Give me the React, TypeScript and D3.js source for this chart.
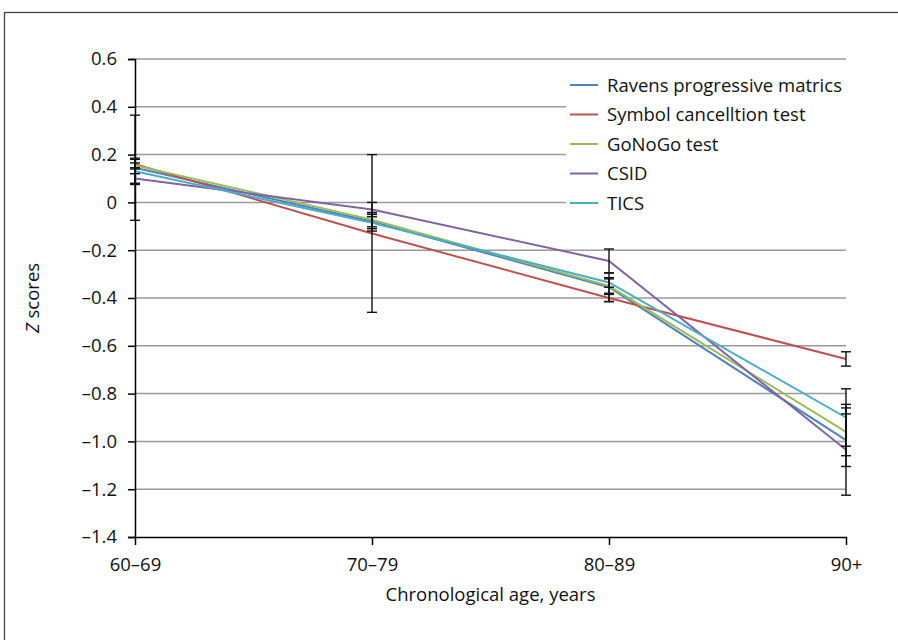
import React, { useEffect, useRef } from 'react';
import * as d3 from 'd3';

const ageGroups = ['60–69', '70–79', '80–89', '90+'];
const seriesNames = ['Ravens progressive matrics', 'Symbol cancelltion test', 'GoNoGo test', 'CSID', 'TICS'];
const seriesColors = ['#4F81BD', '#C0504D', '#9BBB59', '#8064A2', '#4BACC6'];

const ravens = [0.145, -0.08, -0.355, -0.995];
const symbol = [0.16, -0.13, -0.4, -0.655];
const gonogo = [0.155, -0.072, -0.35, -0.96];
const csid = [0.1, -0.03, -0.245, -1.035];
const tics = [0.13, -0.085, -0.335, -0.9];

const ravensErr = [0.22, 0.03, 0.06, 0.11];
const symbolErr = [0.02, 0.33, 0.015, 0.03];
const gonogoErr = [0.01, 0.03, 0.03, 0.1];
const csidErr = [0.02, 0.03, 0.05, 0.19];
const ticsErr = [0.055, 0.035, 0.02, 0.12];

const yTicks = [0.6, 0.4, 0.2, 0, -0.2, -0.4, -0.6, -0.8, -1.0, -1.2, -1.4];

const App = () => {
  const svgRef = useRef<SVGSVGElement>(null);

  useEffect(() => {
    const svg = d3.select(svgRef.current);
    svg.selectAll('*').remove();

    const width = 898;
    const height = 640;
    const margin = { top: 59, right: 52, bottom: 103, left: 135 };
    const font = '"Open Sans", "Noto Sans", sans-serif';
    const fs = 18.5;

    const values = [ravens, symbol, gonogo, csid, tics];
    const errors = [ravensErr, symbolErr, gonogoErr, csidErr, ticsErr];

    const x = d3.scalePoint().domain(ageGroups).range([margin.left, width - margin.right]);
    const y = d3.scaleLinear().domain([-1.4, 0.6]).range([height - margin.bottom, margin.top]);

    // outer frame
    svg.append('rect')
      .attr('x', 4.5).attr('y', 12.5)
      .attr('width', 910).attr('height', 660)
      .attr('fill', 'none').attr('stroke', '#444').attr('stroke-width', 1.3);

    // gridlines
    svg.append('g')
      .selectAll('line')
      .data(yTicks.slice(0, -1))
      .join('line')
      .attr('x1', margin.left).attr('x2', width - margin.right)
      .attr('y1', d => y(d)).attr('y2', d => y(d))
      .attr('stroke', '#9a9a9a').attr('stroke-width', 1.5);

    // y axis
    const yAxis = d3.axisLeft(y)
      .tickValues(yTicks)
      .tickSize(7)
      .tickPadding(11)
      .tickFormat(d => {
        const v = +d;
        if (v === 0) return '0';
        return (v < 0 ? '–' : '') + Math.abs(v).toFixed(1);
      });
    const gy = svg.append('g').attr('transform', `translate(${margin.left},0)`).call(yAxis);
    gy.select('.domain').attr('stroke', '#000').attr('stroke-width', 1.5);
    gy.selectAll('.tick line').attr('stroke', '#000').attr('stroke-width', 1.5);
    gy.selectAll('.tick text').attr('font-family', font).attr('font-size', fs).attr('fill', '#111');

    // x axis
    const xAxis = d3.axisBottom(x).tickSize(8).tickSizeOuter(0).tickPadding(13);
    const gx = svg.append('g').attr('transform', `translate(0,${height - margin.bottom})`).call(xAxis);
    gx.select('.domain').attr('stroke', '#000').attr('stroke-width', 1.5);
    gx.selectAll('.tick line').attr('stroke', '#000').attr('stroke-width', 1.5);
    gx.selectAll('.tick text').attr('font-family', font).attr('font-size', fs).attr('fill', '#111');

    // axis titles
    svg.append('text')
      .attr('x', (margin.left + width - margin.right) / 2).attr('y', 601)
      .attr('text-anchor', 'middle')
      .attr('font-family', font).attr('font-size', fs).attr('fill', '#111')
      .text('Chronological age, years');

    const yt = svg.append('text')
      .attr('transform', `translate(39,${(margin.top + height - margin.bottom) / 2}) rotate(-90)`)
      .attr('text-anchor', 'middle')
      .attr('font-family', font).attr('font-size', fs).attr('fill', '#111');
    yt.append('tspan').attr('font-style', 'italic').text('Z');
    yt.append('tspan').text(' scores');

    // legend background
    const legX = 566;
    const legY = 70;
    svg.append('rect')
      .attr('x', legX).attr('y', legY)
      .attr('width', width - margin.right - legX).attr('height', 146)
      .attr('fill', '#fff');

    // lines
    const line = d3.line<number>()
      .x((_, i) => x(ageGroups[i]) as number)
      .y(d => y(d));

    svg.append('g')
      .selectAll('path')
      .data(values)
      .join('path')
      .attr('d', d => line(d))
      .attr('fill', 'none')
      .attr('stroke', (_, i) => seriesColors[i])
      .attr('stroke-width', 2);

    // error bars
    const errG = svg.append('g').attr('stroke', '#111').attr('stroke-width', 1.4);
    values.forEach((vals, s) => {
      vals.forEach((v, i) => {
        const cx = x(ageGroups[i]) as number;
        const hi = y(v + errors[s][i]);
        const lo = y(v - errors[s][i]);
        errG.append('line').attr('x1', cx).attr('x2', cx).attr('y1', hi).attr('y2', lo);
        errG.append('line').attr('x1', cx - 5).attr('x2', cx + 5).attr('y1', hi).attr('y2', hi);
        errG.append('line').attr('x1', cx - 5).attr('x2', cx + 5).attr('y1', lo).attr('y2', lo);
      });
    });

    // legend
    const leg = svg.append('g');
    seriesNames.forEach((name, i) => {
      const ly = 85 + i * 29.5;
      leg.append('line')
        .attr('x1', legX + 4).attr('x2', legX + 32)
        .attr('y1', ly).attr('y2', ly)
        .attr('stroke', seriesColors[i]).attr('stroke-width', 2);
      leg.append('text')
        .attr('x', legX + 41).attr('y', ly + 6.5)
        .attr('font-family', font).attr('font-size', fs).attr('fill', '#111')
        .text(name);
    });
  }, []);

  return (
    <svg ref={svgRef} width={898} height={640}
      style={{ position: 'absolute', left: 0, top: 0, background: '#fff' }} />
  );
};

export default App;
